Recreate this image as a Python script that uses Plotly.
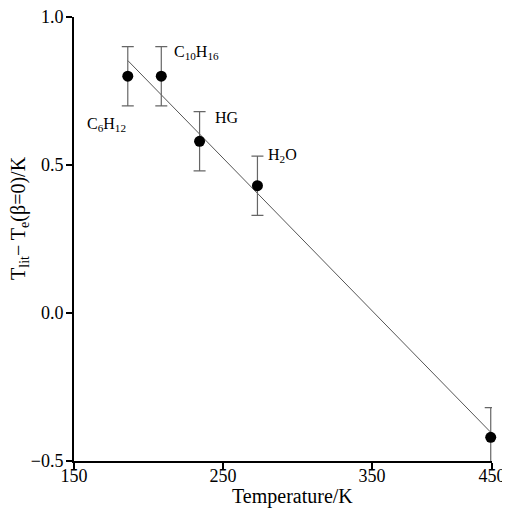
import plotly.graph_objects as go

# Data
substances = ["C<sub>6</sub>H<sub>12</sub>", "C<sub>10</sub>H<sub>16</sub>", "HG", "H<sub>2</sub>O", "In"]
temperature = [186.1, 208.6, 234.3, 273.15, 429.75]
delta_t = [0.80, 0.80, 0.58, 0.43, -0.42]
err = [0.10, 0.10, 0.10, 0.10, 0.10]

fit_x = [186.1, 429.75]
fit_y = [0.853, -0.403]

x_tickvals = [150, 250, 350, 430.6]
x_ticktext = ["150", "250", "350", "450"]
y_tickvals = [1.0, 0.5, 0.0, -0.5]
y_ticktext = ["1.0", "0.5", "0.0", "\u22120.5"]

x_title = "Temperature/K"
y_title = "T<sub>lit</sub>\u2212 T<sub>e</sub>(\u03b2=0)/K"

# label positions in pixel offsets from each point
label_xshift = [-43, 11, 13, 9, 10]
label_yshift = [-48, 24, 24, 30, 21]

font_family = "Liberation Serif"

fig = go.Figure()

fig.add_trace(go.Scatter(
    x=fit_x, y=fit_y, mode="lines",
    line=dict(color="#555555", width=1),
    hoverinfo="skip", showlegend=False,
))

fig.add_trace(go.Scatter(
    x=temperature, y=delta_t, mode="markers",
    marker=dict(color="black", size=11),
    error_y=dict(type="data", array=err, color="#666666", thickness=1.2, width=6),
    cliponaxis=False, showlegend=False,
))

for name, xv, yv, dx, dy in zip(substances, temperature, delta_t, label_xshift, label_yshift):
    fig.add_annotation(
        x=xv, y=yv, xshift=dx, yshift=dy, text=name, showarrow=False,
        xanchor="left", yanchor="middle",
        font=dict(family=font_family, size=16 if name != "In" else 13, color="black"),
    )

# axis titles as annotations (paper coordinates)
fig.add_annotation(
    x=0.522, y=-0.081, xref="paper", yref="paper", text=x_title, showarrow=False,
    xanchor="center", yanchor="middle",
    font=dict(family=font_family, size=20, color="black"),
)
fig.add_annotation(
    x=-0.132, y=0.547, xref="paper", yref="paper", text=y_title, showarrow=False,
    xanchor="center", yanchor="middle", textangle=-90,
    font=dict(family=font_family, size=20, color="black"),
)

fig.update_layout(
    width=502, height=502,
    margin=dict(l=66, r=18, t=9, b=49),
    paper_bgcolor="white", plot_bgcolor="white",
    font=dict(family=font_family, color="black"),
)

fig.update_xaxes(
    range=[150, 430.6], tickvals=x_tickvals, ticktext=x_ticktext,
    showline=True, linecolor="black", linewidth=2,
    ticks="outside", ticklen=6, tickwidth=2, tickcolor="black",
    showgrid=False, zeroline=False, automargin=False,
    ticklabeloverflow="allow", ticklabelstandoff=-9,
    tickfont=dict(size=18, family=font_family),
)
fig.update_yaxes(
    range=[-0.5, 1.0], tickvals=y_tickvals, ticktext=y_ticktext,
    showline=True, linecolor="black", linewidth=2,
    ticks="outside", ticklen=6, tickwidth=2, tickcolor="black",
    showgrid=False, zeroline=False, automargin=False,
    ticklabeloverflow="allow", ticklabelstandoff=-1,
    tickfont=dict(size=18, family=font_family),
)

fig.write_html("out.html")
